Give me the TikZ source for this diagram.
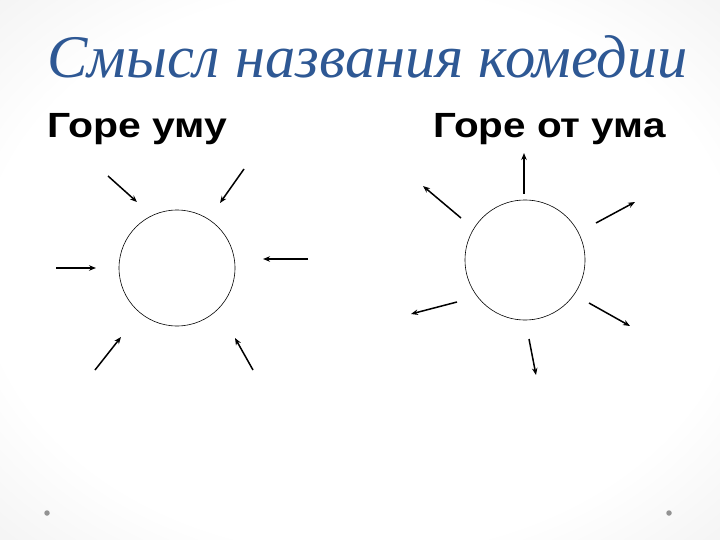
\documentclass[tikz,border=0pt]{standalone}
\usepackage{fontspec}
\setmainfont{Liberation Serif}
\newfontfamily\subfont{Liberation Sans}
\usetikzlibrary{arrows.meta}
\pgfdeclareradialshading{bgshade}{\pgfpoint{0bp}{0bp}}{color(0bp)=(white); color(26bp)=(white); color(60bp)=(gray!30); color(72bp)=(gray!36)}
\definecolor{titleblue}{RGB}{46,88,148}
\tikzset{
  sun/.style={circle, draw=black, line width=0.6pt, minimum size=#1, inner sep=0pt},
  ray/.style={line width=1.5pt, -{Stealth[length=7pt,width=5.5pt]}},
  dot/.style={circle, fill=gray!85, inner sep=0pt, minimum size=5.5pt},
  head/.style={font=\subfont\bfseries\fontsize{35}{40}\selectfont, anchor=base west, inner sep=0pt},
}
\begin{document}
\begin{tikzpicture}[x=1pt,y=-1pt]
\useasboundingbox (0,0) rectangle (720,540);
\shade[shading=bgshade] (0,0) rectangle (720,540);
\node[anchor=base west, inner sep=0pt, text=titleblue, font=\itshape\fontsize{60.5}{66}\selectfont] (title) at (47,78) {Смысл названия комедии};
\node[head] (h1) at (47,138) {\scalebox{1.17}[1]{Горе уму}};
\node[head] (h2) at (433,138) {\scalebox{1.155}[1]{Горе от ума}};
% left sun
\node[sun=116pt] (c1) at (177,268) {};
\coordinate (a1s) at (108,176); \coordinate (a1e) at (137,202);
\coordinate (a2s) at (244,169); \coordinate (a2e) at (220,203);
\coordinate (a3s) at (56,268); \coordinate (a3e) at (96,268);
\coordinate (a4s) at (308,259); \coordinate (a4e) at (263,259);
\coordinate (a5s) at (95,370); \coordinate (a5e) at (121,337);
\coordinate (a6s) at (253,370); \coordinate (a6e) at (235,338);
\foreach \i in {1,...,6} \draw[ray] (a\i s) -- (a\i e);
% right sun
\node[sun=120pt] (c2) at (525,260) {};
\coordinate (b1s) at (524,194); \coordinate (b1e) at (524,153);
\coordinate (b2s) at (461,218); \coordinate (b2e) at (423,186);
\coordinate (b3s) at (596,223); \coordinate (b3e) at (635,202);
\coordinate (b4s) at (457,302); \coordinate (b4e) at (411,314);
\coordinate (b5s) at (589,303); \coordinate (b5e) at (630,326);
\coordinate (b6s) at (529,339); \coordinate (b6e) at (536,375);
\foreach \i in {1,...,6} \draw[ray] (b\i s) -- (b\i e);
\node[dot] (d1) at (47,513) {};
\node[dot] (d2) at (669,513) {};
\end{tikzpicture}
\end{document}
